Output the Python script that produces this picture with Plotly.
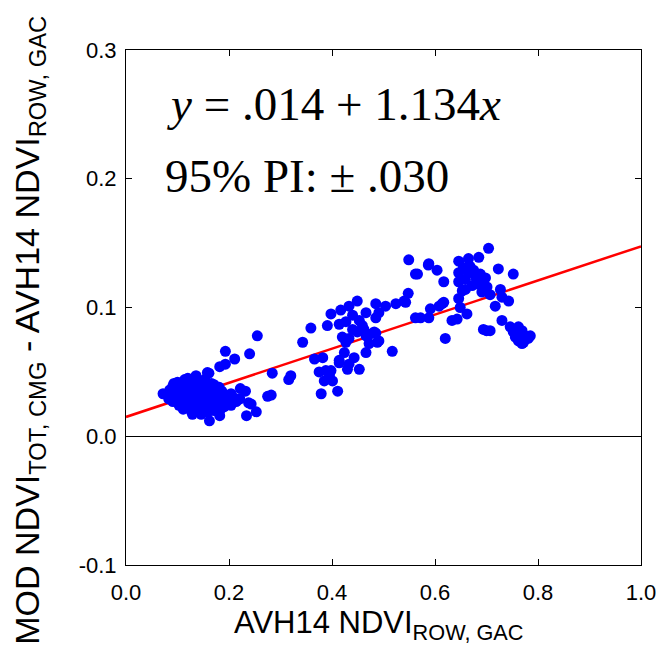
import plotly.graph_objects as go

# ---------------- data ----------------
# dense low-NDVI cluster
blob_x = [0.120, 0.136, 0.153, 0.161, 0.158,
          0.093, 0.100, 0.114, 0.131, 0.146, 0.166,
          0.091, 0.104, 0.121, 0.139, 0.156, 0.171, 0.181,
          0.085, 0.099, 0.116, 0.129, 0.151, 0.164, 0.186,
          0.072, 0.090, 0.106, 0.119, 0.134, 0.149, 0.161, 0.176, 0.191, 0.204,
          0.083, 0.101, 0.114, 0.131, 0.144, 0.159, 0.176, 0.189, 0.209, 0.221,
          0.091, 0.106, 0.121, 0.136, 0.149, 0.166, 0.181, 0.199, 0.214,
          0.103, 0.116, 0.129, 0.146, 0.161, 0.174, 0.191, 0.204,
          0.111, 0.126, 0.141, 0.154, 0.171, 0.184,
          0.129, 0.146, 0.159]
blob_y = [0.045, 0.047, 0.044, 0.049, 0.0495,
          0.041, 0.042, 0.044, 0.041, 0.043, 0.041,
          0.039, 0.038, 0.040, 0.039, 0.038, 0.040, 0.038,
          0.036, 0.035, 0.036, 0.037, 0.035, 0.036, 0.035,
          0.033, 0.032, 0.033, 0.034, 0.032, 0.033, 0.032, 0.033, 0.032, 0.033,
          0.029, 0.029, 0.031, 0.030, 0.029, 0.030, 0.031, 0.029, 0.030, 0.029,
          0.027, 0.026, 0.028, 0.027, 0.026, 0.027, 0.028, 0.026, 0.027,
          0.024, 0.023, 0.024, 0.025, 0.023, 0.024, 0.023, 0.024,
          0.021, 0.020, 0.021, 0.022, 0.020, 0.021,
          0.017, 0.017, 0.019]

# scattered points
pts_x = [0.162, 0.182, 0.234, 0.253, 0.238, 0.243, 0.220, 0.222, 0.232,
         0.193, 0.211, 0.240, 0.182, 0.193, 0.255, 0.284, 0.275, 0.282,
         0.343, 0.359, 0.320, 0.316, 0.379, 0.411,
         0.366, 0.382, 0.375, 0.388, 0.401, 0.395, 0.385, 0.398,
         0.414, 0.430, 0.453, 0.443, 0.466, 0.472, 0.433, 0.424, 0.414,
         0.420, 0.433, 0.488, 0.482, 0.485, 0.466, 0.459, 0.449, 0.472, 0.427,
         0.398, 0.391, 0.414, 0.417, 0.433, 0.449, 0.440, 0.453, 0.466, 0.485,
         0.504, 0.524, 0.543, 0.491, 0.440, 0.462, 0.427, 0.485,
         0.548, 0.549, 0.562, 0.562, 0.517, 0.491, 0.540,
         0.704, 0.685, 0.665, 0.646, 0.588, 0.604, 0.587, 0.566, 0.617, 0.723, 0.752,
         0.646, 0.646, 0.659, 0.675, 0.688, 0.698, 0.691, 0.685, 0.665, 0.659, 0.672,
         0.701, 0.653, 0.668, 0.680, 0.655,
         0.707, 0.727, 0.717, 0.743, 0.730,
         0.646, 0.649, 0.662,
         0.617, 0.608, 0.591, 0.588, 0.572, 0.614,
         0.633, 0.643, 0.694, 0.707, 0.700, 0.620,
         0.730, 0.746, 0.762, 0.775, 0.762, 0.756, 0.769, 0.781, 0.752, 0.769,
         0.785, 0.760, 0.772]
pts_y = [0.012, 0.016, 0.016, 0.019, 0.026, 0.025, 0.029, 0.037, 0.035,
         0.066, 0.060, 0.064, 0.054, 0.056, 0.078, 0.049, 0.031, 0.032,
         0.073, 0.084, 0.047, 0.044, 0.033, 0.035,
         0.060, 0.061, 0.050, 0.051, 0.043, 0.047, 0.043, 0.051,
         0.059, 0.052, 0.052, 0.061, 0.065, 0.072, 0.056, 0.065, 0.057,
         0.077, 0.076, 0.073, 0.081, 0.080, 0.078, 0.086, 0.081, 0.079, 0.073,
         0.095, 0.086, 0.087, 0.098, 0.101, 0.105, 0.094, 0.090, 0.096, 0.103,
         0.101, 0.103, 0.104, 0.096, 0.083, 0.083, 0.089, 0.092,
         0.111, 0.137, 0.126, 0.092, 0.066, 0.074, 0.105,
         0.146, 0.139, 0.138, 0.136, 0.134, 0.129, 0.133, 0.126, 0.120, 0.130, 0.126,
         0.127, 0.120, 0.114, 0.129, 0.126, 0.123, 0.112, 0.118, 0.127, 0.122, 0.117,
         0.116, 0.113, 0.132, 0.123, 0.131,
         0.110, 0.114, 0.101, 0.105, 0.108,
         0.107, 0.100, 0.095,
         0.104, 0.101, 0.099, 0.092, 0.092, 0.103,
         0.090, 0.091, 0.083, 0.082, 0.082, 0.076,
         0.090, 0.085, 0.085, 0.078, 0.074, 0.077, 0.082, 0.076, 0.081, 0.072,
         0.078, 0.079, 0.073]

# regression line (plotted)
line_x = [0.0, 1.0]
line_intercept = 0.015
line_slope = 0.1325
line_y = [line_intercept + line_slope * v for v in line_x]

x_ticks = [0.0, 0.2, 0.4, 0.6, 0.8, 1.0]
x_ticktext = ["0.0", "0.2", "0.4", "0.6", "0.8", "1.0"]
y_ticks = [-0.1, 0.0, 0.1, 0.2, 0.3]
y_ticktext = ["-0.1", "0.0", "0.1", "0.2", "0.3"]

x_title = "AVH14 NDVI<sub>ROW, GAC</sub>"
y_title = "MOD NDVI<sub>TOT, CMG</sub> - AVH14 NDVI<sub>ROW, GAC</sub>"
eq_text = "<i>y</i> = .014 + 1.134<i>x</i>"
pi_text = "95% PI: ± .030"

# ---------------- figure ----------------
fig = go.Figure()
fig.add_trace(go.Scatter(x=line_x, y=line_y, mode="lines",
                         line=dict(color="#ff0000", width=2.5),
                         showlegend=False, hoverinfo="skip"))
fig.add_trace(go.Scatter(x=blob_x + pts_x, y=blob_y + pts_y, mode="markers",
                         marker=dict(color="#0000ff", size=11, line=dict(width=0)),
                         showlegend=False))

axis_common = dict(showgrid=False, showline=True, linecolor="black", linewidth=1,
                   mirror="ticks", ticks="inside", ticklen=6, tickcolor="black",
                   tickwidth=1,
                   tickfont=dict(family="Liberation Sans, Arial", size=22, color="black"))

fig.update_xaxes(range=[0, 1.0], tickvals=x_ticks, ticktext=x_ticktext,
                 zeroline=False, ticklabelstandoff=8, **axis_common)
fig.update_yaxes(range=[-0.1, 0.3], tickvals=y_ticks, ticktext=y_ticktext,
                 zeroline=True, zerolinecolor="black", zerolinewidth=1,
                 ticklabelstandoff=4, **axis_common)

title_font = dict(family="Liberation Sans, Arial", color="black")
fig.add_annotation(x=0.491, y=-0.117, xref="paper", yref="paper", text=x_title,
                   showarrow=False, xanchor="center", yanchor="middle",
                   font=dict(size=31, **title_font))
fig.add_annotation(x=-0.189, y=0.456, xref="paper", yref="paper", text=y_title,
                   showarrow=False, xanchor="center", yanchor="middle", textangle=-90,
                   font=dict(size=34, **title_font))

fig.add_annotation(x=0.075, y=0.2577, xref="x", yref="y", text=eq_text,
                   showarrow=False, xanchor="left", yanchor="middle",
                   font=dict(family="Liberation Serif, Times New Roman", size=47, color="black"))
fig.add_annotation(x=0.072, y=0.2025, xref="x", yref="y", text=pi_text,
                   showarrow=False, xanchor="left", yanchor="middle",
                   font=dict(family="Liberation Serif, Times New Roman", size=47, color="black"))

fig.update_layout(width=668, height=670, margin=dict(l=126, r=25, t=50, b=105),
                  plot_bgcolor="white", paper_bgcolor="white")

fig.write_html("out.html")
